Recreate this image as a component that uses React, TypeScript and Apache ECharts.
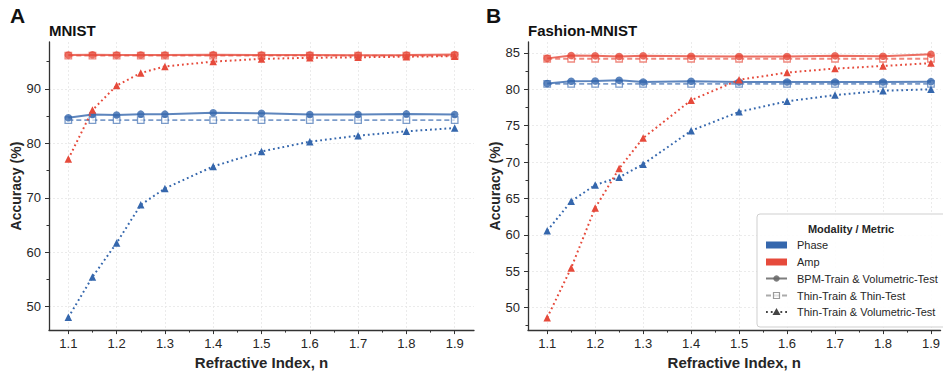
import React, { useEffect, useRef } from "react";
import * as echarts from "echarts";

// ---------- data ----------
const nValues = [1.1, 1.15, 1.2, 1.25, 1.3, 1.4, 1.5, 1.6, 1.7, 1.8, 1.9];
const xMajorTicks = [1.1, 1.2, 1.3, 1.4, 1.5, 1.6, 1.7, 1.8, 1.9];
const xMinorTicks = [1.15, 1.25, 1.35, 1.45, 1.55, 1.65, 1.75, 1.85];

// MNIST
const mnistPhaseBpm = [84.7, 85.3, 85.2, 85.35, 85.35, 85.6, 85.5, 85.3, 85.3, 85.4, 85.3];
const mnistPhaseThin = [84.25, 84.25, 84.25, 84.25, 84.25, 84.25, 84.25, 84.25, 84.25, 84.25, 84.25];
const mnistPhaseVol = [48.05, 55.45, 61.7, 68.7, 71.7, 75.75, 78.5, 80.3, 81.4, 82.2, 82.8];
const mnistAmpBpm = [96.2, 96.25, 96.2, 96.2, 96.2, 96.25, 96.2, 96.2, 96.15, 96.2, 96.3];
const mnistAmpThin = [96.1, 96.1, 96.1, 96.1, 96.1, 96.1, 96.1, 96.1, 96.1, 96.1, 96.1];
const mnistAmpVol = [77.1, 86.1, 90.6, 92.9, 94.1, 95.0, 95.5, 95.7, 95.8, 95.9, 96.0];
const mnistYMajor = [50, 60, 70, 80, 90];
const mnistYMinor = [55, 65, 75, 85, 95];

// Fashion-MNIST
const fashionPhaseBpm = [80.8, 81.1, 81.15, 81.25, 81.0, 81.1, 81.0, 81.0, 81.0, 81.0, 81.05];
const fashionPhaseThin = [80.75, 80.75, 80.75, 80.75, 80.75, 80.75, 80.75, 80.75, 80.75, 80.75, 80.75];
const fashionPhaseVol = [60.55, 64.6, 66.85, 67.9, 69.7, 74.3, 76.9, 78.35, 79.2, 79.8, 80.0];
const fashionAmpBpm = [84.25, 84.65, 84.6, 84.5, 84.6, 84.55, 84.5, 84.5, 84.6, 84.55, 84.8];
const fashionAmpThin = [84.2, 84.2, 84.2, 84.2, 84.2, 84.2, 84.2, 84.2, 84.2, 84.2, 84.2];
const fashionAmpVol = [48.6, 55.45, 63.7, 69.1, 73.3, 78.5, 81.3, 82.3, 82.85, 83.2, 83.6];
const fashionYMajor = [50, 55, 60, 65, 70, 75, 80, 85];
const fashionYMinor = [47.5, 52.5, 57.5, 62.5, 67.5, 72.5, 77.5, 82.5];

const legendTitle = "Modality / Metric";
const modalityNames = ["Phase", "Amp"];
const metricNames = ["BPM-Train & Volumetric-Test", "Thin-Train & Thin-Test", "Thin-Train & Volumetric-Test"];

// ---------- styles ----------
const BLUE = "#3567ad";
const RED = "#e64a3b";
const FONT = "Liberation Sans, Arial, sans-serif";
const AXIS_COLOR = "#333333";
const TEXT_COLOR = "#262626";

const pairs = (ys: number[]) => nValues.map((x, i) => [x, ys[i]]);
const diffPairs = (a: number[], b: number[]) => nValues.map((x, i) => [x, a[i] - b[i]]);

function panelSeries(idx: number, color: string, bandRgba: string, bpm: number[], thin: number[], vol: number[], key: string) {
  const ax = { xAxisIndex: idx * 2, yAxisIndex: idx * 2 };
  return [
    {
      type: "line", ...ax, name: key + "-base", stack: key + "band", data: pairs(thin),
      symbol: "none", silent: true, lineStyle: { opacity: 0 }, z: 1,
    },
    {
      type: "line", ...ax, name: key + "-band", stack: key + "band", data: diffPairs(bpm, thin),
      symbol: "none", silent: true, lineStyle: { opacity: 0 }, areaStyle: { color: bandRgba, opacity: 1 }, z: 1,
    },
    {
      type: "line", ...ax, name: key + " " + metricNames[1], data: pairs(thin),
      symbol: "rect", symbolSize: 6.5,
      itemStyle: { color: "#ffffff", borderColor: color, borderWidth: 1.3, opacity: 0.65 },
      lineStyle: { color, width: 1.8, type: [5, 3], opacity: 0.65 }, z: 3,
    },
    {
      type: "line", ...ax, name: key + " " + metricNames[0], data: pairs(bpm),
      symbol: "circle", symbolSize: 7.5,
      itemStyle: { color, opacity: 0.8 },
      lineStyle: { color, width: 2, opacity: 0.8 }, z: 4,
    },
    {
      type: "line", ...ax, name: key + " " + metricNames[2], data: pairs(vol),
      symbol: "triangle", symbolSize: 7.5,
      itemStyle: { color },
      lineStyle: { color, width: 2, type: [1.8, 3] }, z: 5,
    },
  ];
}

function axesFor(gridIndex: number, yMin: number, yMax: number, yMajor: number[], yMinor: number[], xMax: number, showYName: boolean) {
  const splitLine = { show: true, lineStyle: { color: "#e6e6e6", type: [2, 2], width: 0.8 } };
  const xAxes = [
    {
      type: "value", gridIndex, min: 1.06, max: xMax,
      name: "Refractive Index, n", nameLocation: "middle", nameGap: 21,
      nameTextStyle: { fontFamily: FONT, fontSize: 15, fontWeight: "bold", color: TEXT_COLOR },
      axisLine: { show: true, lineStyle: { color: AXIS_COLOR, width: 1.3 } },
      axisTick: { show: true, length: 4, lineStyle: { color: AXIS_COLOR }, customValues: xMajorTicks },
      axisLabel: { customValues: xMajorTicks, fontFamily: FONT, fontSize: 13, color: TEXT_COLOR, margin: 7, formatter: (v: number) => v.toFixed(1) },
      splitLine,
    },
    {
      type: "value", gridIndex, min: 1.06, max: xMax, position: "bottom",
      axisLine: { show: false },
      axisTick: { show: true, length: 2.5, lineStyle: { color: AXIS_COLOR }, customValues: xMinorTicks },
      axisLabel: { show: false },
      splitLine: { show: false },
    },
  ];
  const yAxes = [
    {
      type: "value", gridIndex, min: yMin, max: yMax,
      name: showYName ? "Accuracy (%)" : "", nameLocation: "middle", nameGap: 25,
      nameTextStyle: { fontFamily: FONT, fontSize: 14, fontWeight: "bold", color: TEXT_COLOR },
      axisLine: { show: true, lineStyle: { color: AXIS_COLOR, width: 1.3 } },
      axisTick: { show: true, length: 4, lineStyle: { color: AXIS_COLOR }, customValues: yMajor },
      axisLabel: { customValues: yMajor, fontFamily: FONT, fontSize: 13, color: TEXT_COLOR, margin: 8 },
      splitLine,
    },
    {
      type: "value", gridIndex, min: yMin, max: yMax, position: "left",
      axisLine: { show: false },
      axisTick: { show: true, length: 2.5, lineStyle: { color: AXIS_COLOR }, customValues: yMinor },
      axisLabel: { show: false },
      splitLine: { show: false },
    },
  ];
  return { xAxes, yAxes };
}

function legendGraphic() {
  const x0 = 757;
  const y0 = 214;
  const fs = 11;
  const children: any[] = [];
  children.push({
    type: "rect", shape: { x: x0, y: y0, width: 200, height: 113, r: 3 },
    style: { fill: "rgba(255,255,255,0.9)", stroke: "#cfcfcf", lineWidth: 1 }, z: 100,
  });
  children.push({
    type: "text", x: 851, y: 228.5, z: 101,
    style: { text: legendTitle, fontFamily: FONT, fontSize: fs, fontWeight: "bold", fill: TEXT_COLOR, align: "center", verticalAlign: "middle" },
  });
  const rows = [245, 262, 278.5, 295.5, 312];
  const sx0 = 766, sx1 = 787, tx = 797;
  [BLUE, RED].forEach((c, i) => {
    children.push({ type: "rect", shape: { x: sx0, y: rows[i] - 3.5, width: sx1 - sx0, height: 7 }, style: { fill: c }, z: 101 });
    children.push({
      type: "text", x: tx, y: rows[i], z: 101,
      style: { text: modalityNames[i], fontFamily: FONT, fontSize: fs, fill: TEXT_COLOR, align: "left", verticalAlign: "middle" },
    });
  });
  const gray = "#666666";
  // BPM: solid + circle
  children.push({ type: "line", shape: { x1: sx0, y1: rows[2], x2: sx1, y2: rows[2] }, style: { stroke: gray, lineWidth: 2, opacity: 0.85 }, z: 101 });
  children.push({ type: "circle", shape: { cx: (sx0 + sx1) / 2, cy: rows[2], r: 3.2 }, style: { fill: gray, opacity: 0.85 }, z: 102 });
  // Thin-Thin: dashed + hollow square
  children.push({ type: "line", shape: { x1: sx0, y1: rows[3], x2: sx1, y2: rows[3] }, style: { stroke: gray, lineWidth: 1.8, lineDash: [5, 3], opacity: 0.55 }, z: 101 });
  children.push({ type: "rect", shape: { x: (sx0 + sx1) / 2 - 3, y: rows[3] - 3, width: 6, height: 6 }, style: { fill: "#ffffff", stroke: gray, lineWidth: 1.2, opacity: 0.65 }, z: 102 });
  // Thin-Vol: dotted + triangle
  children.push({ type: "line", shape: { x1: sx0, y1: rows[4], x2: sx1, y2: rows[4] }, style: { stroke: "#444", lineWidth: 2, lineDash: [1.8, 3] }, z: 101 });
  children.push({ type: "polygon", shape: { points: [[776.5, rows[4] - 4], [772.5, rows[4] + 3], [780.5, rows[4] + 3]] }, style: { fill: "#444" }, z: 102 });
  [2, 3, 4].forEach((r) => {
    children.push({
      type: "text", x: tx, y: rows[r], z: 101,
      style: { text: metricNames[r - 2], fontFamily: FONT, fontSize: fs, fill: TEXT_COLOR, align: "left", verticalAlign: "middle" },
    });
  });
  return children;
}

export default function App() {
  const ref = useRef<HTMLDivElement>(null);
  useEffect(() => {
    if (!ref.current) return;
    const chart = echarts.init(ref.current, null, { renderer: "svg" });
    const a = axesFor(0, 45.7, 98.6, mnistYMajor, mnistYMinor, 1.94, true);
    const b = axesFor(1, 46.9, 86.5, fashionYMajor, fashionYMinor, 1.92, true);
    const titleStyle = (text: string, x: number, y: number, size: number) => ({
      type: "text", x, y, z: 50,
      style: { text, fontFamily: FONT, fontSize: size, fontWeight: "bold", fill: "#111", align: "left", verticalAlign: "middle" },
    });
    chart.setOption({
      animation: false,
      backgroundColor: "#ffffff",
      grid: [
        { left: 49, top: 42, width: 425, height: 291, containLabel: false },
        { left: 528, top: 42, width: 415, height: 291, containLabel: false },
      ],
      xAxis: [...a.xAxes, ...b.xAxes],
      yAxis: [...a.yAxes, ...b.yAxes],
      series: [
        ...panelSeries(0, BLUE, "rgba(53,103,173,0.15)", mnistPhaseBpm, mnistPhaseThin, mnistPhaseVol, "MNIST Phase"),
        ...panelSeries(0, RED, "rgba(230,74,59,0.15)", mnistAmpBpm, mnistAmpThin, mnistAmpVol, "MNIST Amp"),
        ...panelSeries(1, BLUE, "rgba(53,103,173,0.15)", fashionPhaseBpm, fashionPhaseThin, fashionPhaseVol, "Fashion Phase"),
        ...panelSeries(1, RED, "rgba(230,74,59,0.15)", fashionAmpBpm, fashionAmpThin, fashionAmpVol, "Fashion Amp"),
      ],
      graphic: [
        titleStyle("A", 10, 15, 21),
        titleStyle("MNIST", 49, 30, 15),
        titleStyle("B", 486, 15, 21),
        titleStyle("Fashion-MNIST", 528, 30, 15),
        ...legendGraphic(),
      ],
    });
    return () => chart.dispose();
  }, []);
  return <div ref={ref} style={{ width: 943, height: 375, position: "absolute", left: 0, top: 0 }} />;
}
